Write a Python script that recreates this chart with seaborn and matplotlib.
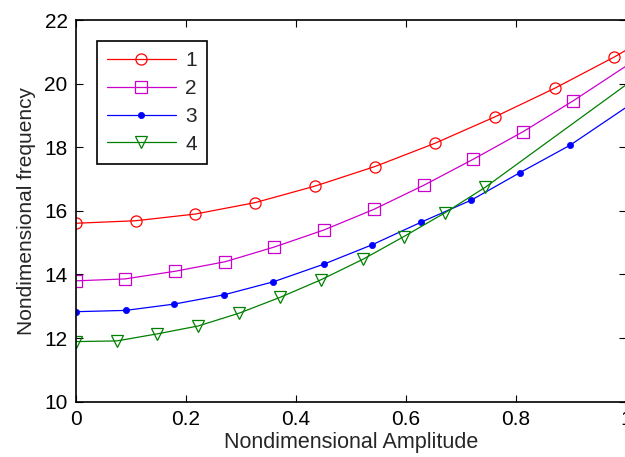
import matplotlib
matplotlib.use("Agg")
import matplotlib.pyplot as plt
import seaborn as sns
import pandas as pd

# ---- data ----
x1 = [0.0, 0.109, 0.217, 0.326, 0.435, 0.543, 0.652, 0.761, 0.870, 0.978, 1.0]
y1 = [15.61, 15.69, 15.90, 16.26, 16.78, 17.39, 18.12, 18.95, 19.85, 20.83, 21.05]
x2 = [0.0, 0.089, 0.180, 0.271, 0.360, 0.451, 0.542, 0.633, 0.722, 0.813, 0.904, 1.0]
y2 = [13.80, 13.86, 14.10, 14.40, 14.86, 15.40, 16.05, 16.81, 17.62, 18.49, 19.46, 20.55]
x3 = [0.0, 0.090, 0.179, 0.269, 0.359, 0.450, 0.538, 0.627, 0.719, 0.807, 0.898, 1.0]
y3 = [12.83, 12.87, 13.07, 13.36, 13.77, 14.32, 14.93, 15.64, 16.34, 17.20, 18.06, 19.25]
x4 = [0.0, 0.074, 0.147, 0.222, 0.296, 0.371, 0.445, 0.522, 0.596, 0.671, 0.744, 1.0]
y4 = [11.89, 11.91, 12.13, 12.38, 12.78, 13.28, 13.83, 14.48, 15.19, 15.94, 16.74, 19.96]
labels = ["1", "2", "3", "4"]
xticks = [0, 0.2, 0.4, 0.6, 0.8, 1.0]
xticklabels = ["0", "0.2", "0.4", "0.6", "0.8", "1"]
yticks = [10, 12, 14, 16, 18, 20, 22]

sns.set_style("ticks")
plt.rcParams["font.family"] = ["Liberation Sans", "DejaVu Sans"]

fig = plt.figure(figsize=(6.25, 4.57), dpi=100)
W, H = 625, 457
L, R, T, B = 76, 626, 20, 401.7
ax = fig.add_axes([L / W, 1 - B / H, (R - L) / W, (B - T) / H])

colors = ["#ff0000", "#cc00cc", "#0000ff", "#008000"]
styles = [
    dict(marker="o", markersize=8, markerfacecolor="none", markeredgewidth=0.9),
    dict(marker="s", markersize=8, markerfacecolor="none", markeredgewidth=0.9),
    dict(marker="o", markersize=4.5, markerfacecolor=colors[2], markeredgewidth=0.5),
    dict(marker="v", markersize=9, markerfacecolor="none", markeredgewidth=0.9),
]
series = [(x1, y1), (x2, y2), (x3, y3), (x4, y4)]
for (xs, ys), lab, st, c in zip(series, labels, styles, colors):
    df = pd.DataFrame({"x": xs, "y": ys})
    sns.lineplot(data=df, x="x", y="y", ax=ax, label=lab, linewidth=0.9,
                 color=c, markeredgecolor=c,
                 markevery=list(range(len(xs) - 1)), **st)

ax.set_xlim(0, 1)
ax.set_ylim(10, 22)
ax.set_xticks(xticks)
ax.set_xticklabels(xticklabels)
ax.set_yticks(yticks)
ax.tick_params(direction="in", length=5, width=0.8, top=True, right=True,
               labelsize=15, pad=6, colors="black")
for sp in ax.spines.values():
    sp.set_visible(True)
    sp.set_linewidth(1.2)
    sp.set_color("black")
ax.set_xlabel("Nondimensional Amplitude", fontsize=15.5, labelpad=2)
ax.set_ylabel("Nondimensional frequency", fontsize=15, labelpad=6)

leg = ax.legend(loc="upper left", bbox_to_anchor=(0.0376, 0.945), borderaxespad=0,
                fontsize=15, handlelength=3.3, handletextpad=0.45, labelspacing=0.42,
                borderpad=0.5, fancybox=False, framealpha=1, edgecolor="black")
leg.get_frame().set_linewidth(1.2)

fig.savefig("out.png", dpi=100)
